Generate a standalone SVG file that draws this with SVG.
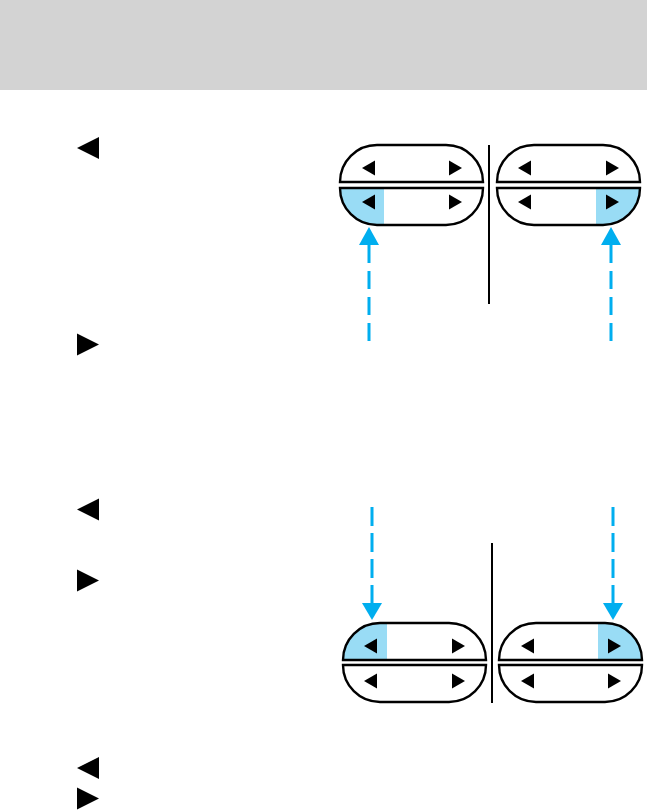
<svg xmlns="http://www.w3.org/2000/svg" xmlns:xlink="http://www.w3.org/1999/xlink" width="647" height="810" viewBox="0 0 647 810">
  <style>
    .outline { fill: none; stroke: #000; stroke-width: 2.4; }
    .bg { fill: #fff; }
    .hl { fill: #99dcf5; }
    .tri { fill: #000; }
    .div { stroke: #000; stroke-width: 2; }
    .dash { stroke: #00aeef; stroke-width: 3; fill: none; }
    .head { fill: #00aeef; }
  </style>
  <defs>
    <path id="topHalf" d="M0,37 A37,37 0 0 1 37,0 L106,0 A37,37 0 0 1 143,37 Z"/>
    <path id="botHalf" d="M0,0 L143,0 A37,37 0 0 1 106,37 L37,37 A37,37 0 0 1 0,0 Z"/>
    <clipPath id="clipTop"><use xlink:href="#topHalf"/></clipPath>
    <clipPath id="clipBot"><use xlink:href="#botHalf"/></clipPath>
    <polygon id="triL" points="0,0 13,-7.5 13,7.5"/>
    <polygon id="triR" points="13,0 0,-7.5 0,7.5"/>
    <polygon id="bigL" points="0,0 22,-11 22,11"/>
    <polygon id="bigR" points="22,0 0,-11 0,11"/>
  </defs>

  <rect x="0" y="0" width="647" height="90" fill="#d3d3d3"/>

  <g id="side-symbols">
    <use xlink:href="#bigL" x="77" y="148" class="tri"/>
    <use xlink:href="#bigR" x="77" y="344.5" class="tri"/>
    <use xlink:href="#bigL" x="77" y="509.5" class="tri"/>
    <use xlink:href="#bigR" x="77" y="580.5" class="tri"/>
    <use xlink:href="#bigL" x="77" y="768" class="tri"/>
    <use xlink:href="#bigR" x="77" y="798.5" class="tri"/>
  </g>

  <!-- Top section -->
  <g id="pill-top-left" transform="translate(340,145)">
    <use xlink:href="#topHalf" class="bg"/>
    <use xlink:href="#topHalf" class="outline"/>
    <use xlink:href="#triL" x="22" y="23" class="tri"/>
    <use xlink:href="#triR" x="109" y="23" class="tri"/>
    <g transform="translate(0,43)">
      <use xlink:href="#botHalf" class="bg"/>
      <rect x="0" y="0" width="44" height="37" class="hl" clip-path="url(#clipBot)"/>
      <use xlink:href="#botHalf" class="outline"/>
      <use xlink:href="#triL" x="22" y="14" class="tri"/>
      <use xlink:href="#triR" x="109" y="14" class="tri"/>
    </g>
  </g>
  <g id="pill-top-right" transform="translate(497,145)">
    <use xlink:href="#topHalf" class="bg"/>
    <use xlink:href="#topHalf" class="outline"/>
    <use xlink:href="#triL" x="21" y="23" class="tri"/>
    <use xlink:href="#triR" x="109" y="23" class="tri"/>
    <g transform="translate(0,43)">
      <use xlink:href="#botHalf" class="bg"/>
      <rect x="99" y="0" width="44" height="37" class="hl" clip-path="url(#clipBot)"/>
      <use xlink:href="#botHalf" class="outline"/>
      <use xlink:href="#triL" x="21" y="14" class="tri"/>
      <use xlink:href="#triR" x="109" y="14" class="tri"/>
    </g>
  </g>
  <line class="div" x1="489" y1="145" x2="489" y2="304"/>

  <!-- Bottom section -->
  <g id="pill-bottom-left" transform="translate(343,623)">
    <use xlink:href="#topHalf" class="bg"/>
    <rect x="0" y="0" width="44" height="37" class="hl" clip-path="url(#clipTop)"/>
    <use xlink:href="#topHalf" class="outline"/>
    <use xlink:href="#triL" x="21" y="23" class="tri"/>
    <use xlink:href="#triR" x="109" y="23" class="tri"/>
    <g transform="translate(0,42)">
      <use xlink:href="#botHalf" class="bg"/>
      <use xlink:href="#botHalf" class="outline"/>
      <use xlink:href="#triL" x="21" y="16" class="tri"/>
      <use xlink:href="#triR" x="109" y="16" class="tri"/>
    </g>
  </g>
  <g id="pill-bottom-right" transform="translate(499,623)">
    <use xlink:href="#topHalf" class="bg"/>
    <rect x="99" y="0" width="44" height="37" class="hl" clip-path="url(#clipTop)"/>
    <use xlink:href="#topHalf" class="outline"/>
    <use xlink:href="#triL" x="22" y="23" class="tri"/>
    <use xlink:href="#triR" x="109" y="23" class="tri"/>
    <g transform="translate(0,42)">
      <use xlink:href="#botHalf" class="bg"/>
      <use xlink:href="#botHalf" class="outline"/>
      <use xlink:href="#triL" x="22" y="16" class="tri"/>
      <use xlink:href="#triR" x="109" y="16" class="tri"/>
    </g>
  </g>
  <line class="div" x1="492" y1="543" x2="492" y2="703"/>

  <g id="connectors">
    <line class="dash" x1="369" y1="245" x2="369" y2="342" stroke-dasharray="18 8"/>
    <polygon class="head" points="359,245 379,245 369,227"/>
    <line class="dash" x1="611" y1="245" x2="611" y2="342" stroke-dasharray="18 8"/>
    <polygon class="head" points="601,245 621,245 611,227"/>
    <line class="dash" x1="372" y1="507" x2="372" y2="603" stroke-dasharray="19 7"/>
    <polygon class="head" points="362,603 382,603 372,620"/>
    <line class="dash" x1="613" y1="507" x2="613" y2="603" stroke-dasharray="19 7"/>
    <polygon class="head" points="603,603 623,603 613,620"/>
  </g>
</svg>
